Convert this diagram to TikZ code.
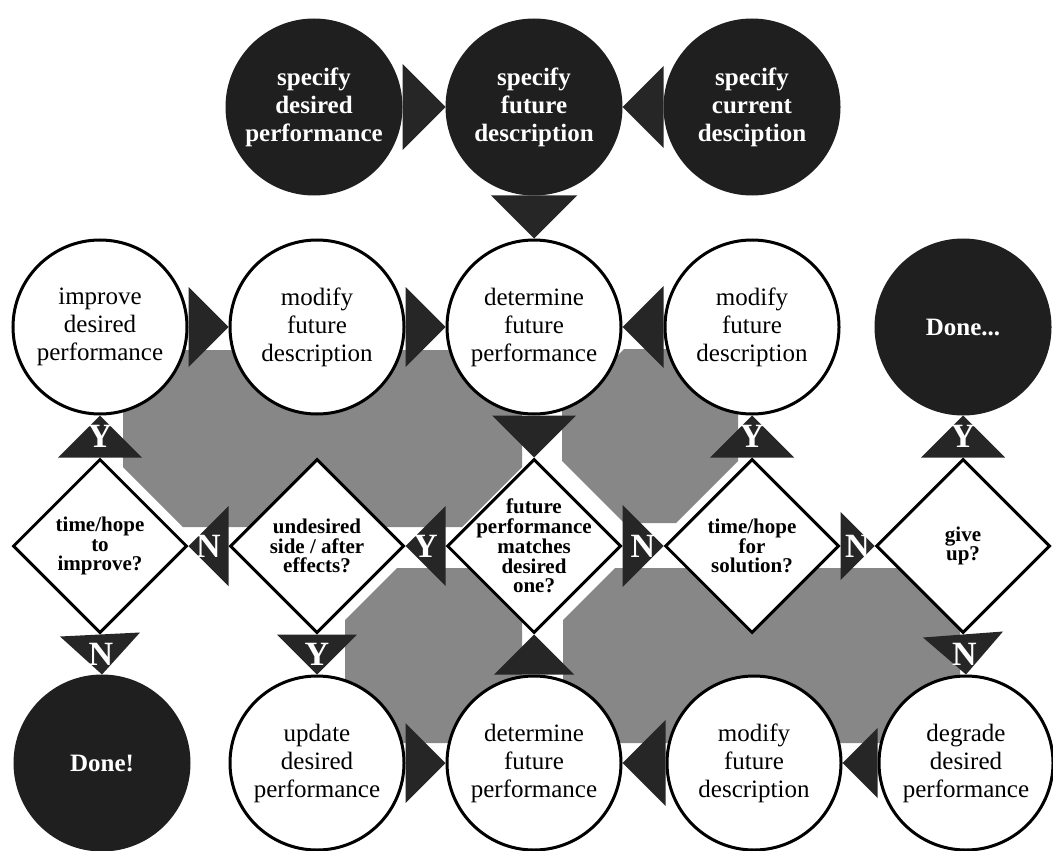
\documentclass[tikz,border=0pt]{standalone}
\usepackage{fontspec}
\setmainfont{Liberation Serif}
\usetikzlibrary{shapes.geometric,calc}
\tikzset{
 proc/.style={circle,draw,line width=1.5pt,fill=white,minimum size=87pt,inner sep=0pt,align=center,font=\fontsize{12.5}{14}\selectfont},
 term/.style={circle,fill=black!88,draw=black!88,line width=1.5pt,minimum size=87pt,inner sep=0pt,align=center,text=white,font=\bfseries\fontsize{12.5}{14}\selectfont},
 quest/.style={diamond,draw,line width=1.5pt,fill=white,minimum width=87pt,minimum height=87pt,aspect=1,inner sep=0pt},
 qtext/.style={align=center,font=\bfseries\fontsize{10.5}{9.9}\selectfont,inner sep=0pt},
 lbl/.style={text=white,font=\bfseries\fontsize{17}{17}\selectfont,inner sep=0pt},
 band/.style={fill=black!47},
 tri/.style={fill=black!85},
}
% gray band: x1,y1,x2,y2,chamfer
\newcommand\grayband[5]{\fill[band] (#1+#5,#2) -- (#3-#5,#2) -- (#3,#2+#5) -- (#3,#4-#5) -- (#3-#5,#4) -- (#1+#5,#4) -- (#1,#4-#5) -- (#1,#2+#5) -- cycle;}
% arrow triangle: base centre, tip, name, label
\newcommand\tri[4]{%
 \fill[tri] let \p1=(#1), \p2=(#2) in (\p2) -- ({\x1-\y2+\y1},{\y1+\x2-\x1}) -- ({\x1+\y2-\y1},{\y1-\x2+\x1}) -- cycle;
 \node[lbl] (#3) at ($(#1)!0.5!(#2)$) {#4};}
\begin{document}
\begin{tikzpicture}[x=0.5pt,y=-0.5pt]
\useasboundingbox (0,0) rectangle (1053,850);
% gray loop bands
\grayband{123}{350}{522}{527}{60}
\grayband{562}{349}{738}{523}{62}
\grayband{345}{568}{522}{743}{52}
\grayband{563}{568}{960}{743}{52}
% top row
\node[term] (sdp) at (314,107) {specify\\desired\\performance};
\node[term] (sfd) at (534,107) {specify\\future\\description};
\node[term] (scd) at (752,107) {specify\\current\\desciption};
% middle row
\node[proc] (idp) at (100,327) {improve\\desired\\performance};
\node[proc] (mfa) at (317,327) {modify\\future\\description};
\node[proc] (dfa) at (534,327) {determine\\future\\performance};
\node[proc] (mfb) at (752,327) {modify\\future\\description};
\node[term] (dna) at (963,327) {Done...};
% decisions
\node[quest] (q1) at (100,546) {};
\node[qtext] (q1t) at (q1) {time/hope\\to\\improve?};
\node[quest] (q2) at (317,546) {};
\node[qtext] (q2t) at (q2) {undesired\\side / after\\effects?};
\node[quest] (q3) at (534,546) {};
\node[qtext] (q3t) at (q3) {future\\performance\\matches\\desired\\one?};
\node[quest] (q4) at (752,546) {};
\node[qtext] (q4t) at (q4) {time/hope\\for\\solution?};
\node[quest] (q5) at (963,546) {};
\node[qtext] (q5t) at (q5) {give\\up?};
% bottom row
\node[term] (dnb) at (102,763) {Done!};
\node[proc] (udp) at (317,763) {update\\desired\\performance};
\node[proc] (dfb) at (534,763) {determine\\future\\performance};
\node[proc] (mfc) at (754,763) {modify\\future\\description};
\node[proc] (ddp) at (966,763) {degrade\\desired\\performance};
% connectors
\tri{sdp.east}{sfd.west}{a1}{}
\tri{scd.west}{sfd.east}{a2}{}
\tri{sfd.south}{dfa.north}{a3}{}
\tri{idp.east}{mfa.west}{a4}{}
\tri{mfa.east}{dfa.west}{a5}{}
\tri{mfb.west}{dfa.east}{a6}{}
\tri{dfa.south}{q3.north}{a7}{}
\tri{q1.north}{idp.south}{a8}{Y}
\tri{q4.north}{mfb.south}{a9}{Y}
\tri{q5.north}{dna.south}{a10}{Y}
\tri{q2.west}{q1.east}{a11}{N}
\tri{q3.west}{q2.east}{a12}{Y}
\tri{q3.east}{q4.west}{a13}{N}
\tri{q4.east}{q5.west}{a14}{N}
\tri{q1.south}{dnb.north}{a15}{N}
\tri{q2.south}{udp.north}{a16}{Y}
\tri{q5.south}{ddp.north}{a17}{N}
\tri{dfb.north}{q3.south}{a18}{}
\tri{udp.east}{dfb.west}{a19}{}
\tri{mfc.west}{dfb.east}{a20}{}
\tri{ddp.west}{mfc.east}{a21}{}
\end{tikzpicture}
\end{document}
